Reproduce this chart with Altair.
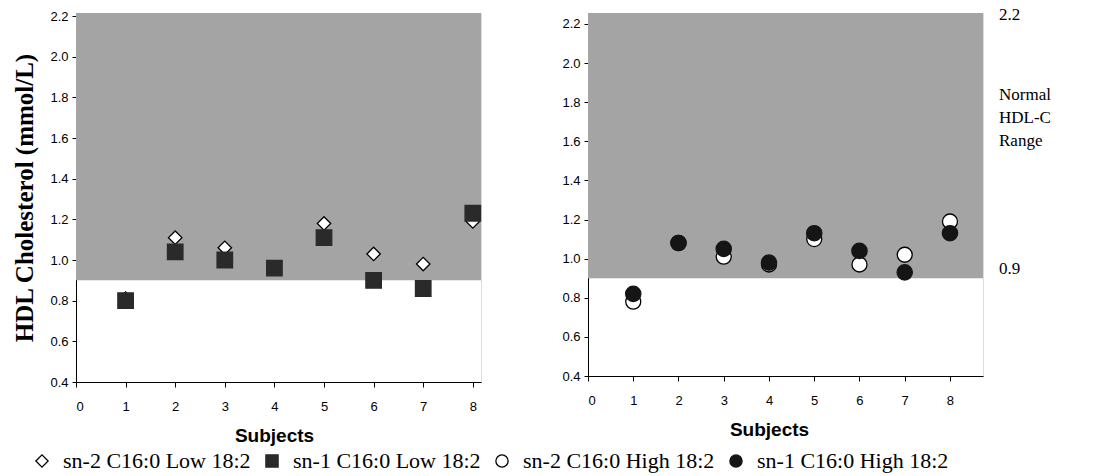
import altair as alt
import pandas as pd

subjects = [1, 2, 3, 4, 5, 6, 7, 8]
sn2_low = [0.81, 1.11, 1.06, 0.96, 1.18, 1.03, 0.98, 1.19]
sn1_low = [0.80, 1.04, 1.00, 0.96, 1.11, 0.90, 0.86, 1.23]
sn2_high = [0.78, 1.08, 1.01, 0.97, 1.10, 0.97, 1.02, 1.19]
sn1_high = [0.82, 1.08, 1.05, 0.98, 1.13, 1.04, 0.93, 1.13]

series_names = ["sn-2 C16:0 Low 18:2", "sn-1 C16:0 Low 18:2",
                "sn-2 C16:0 High 18:2", "sn-1 C16:0 High 18:2"]
normal_low = [0.9]
normal_high = [2.2]
x_ticks = [0, 1, 2, 3, 4, 5, 6, 7, 8]
y_ticks = [0.4, 0.6, 0.8, 1.0, 1.2, 1.4, 1.6, 1.8, 2.0, 2.2]
range_labels = ["2.2", "0.9"]

rows = []
for name, vals in zip(series_names, [sn2_low, sn1_low, sn2_high, sn1_high]):
    for s, v in zip(subjects, vals):
        rows.append({"subject": s, "hdl": v, "series": name})
df = pd.DataFrame(rows)
band = pd.DataFrame({"lo": normal_low, "hi": normal_high})
ann = pd.DataFrame({"label": range_labels, "pos": [normal_high[0] + 0.045, normal_low[0] + 0.045]})

SANS = "Liberation Sans"
SERIF = "Liberation Serif"
BAND = "#a4a4a4"

legend = alt.Legend(
    title=None, orient="none", legendX=-45, legendY=437, direction="horizontal",
    columns=4, labelFont=SERIF, labelFontSize=22, labelColor="black", labelLimit=0,
    symbolSize=150, symbolStrokeWidth=1.3, columnPadding=10, labelOffset=10,
)
shape_enc = alt.Shape("series:N", scale=alt.Scale(domain=series_names,
                      range=["diamond", "square", "circle", "circle"]), legend=legend)
fill_enc = alt.Fill("series:N", scale=alt.Scale(domain=series_names,
                    range=["white", "#2a2a2a", "white", "#151515"]), legend=legend)
stroke_enc = alt.Stroke("series:N", scale=alt.Scale(domain=series_names,
                        range=["black", "#2a2a2a", "black", "#151515"]), legend=legend)


def panel(series_pair, w, h, xmax, ymax, sizes, show_ytitle, title_x, annotate):
    xs = alt.Scale(domain=[0, xmax], nice=False, zero=False)
    ys = alt.Scale(domain=[0.4, ymax], nice=False, zero=False)
    xaxis = alt.Axis(values=x_ticks, format="d", title="Subjects", grid=False,
                     labelFont=SANS, labelFontSize=13, labelColor="black",
                     titleFont=SANS, titleFontSize=19, titleFontWeight="bold",
                     titleColor="black", titleX=title_x, titleY=53,
                     titleBaseline="middle", domainColor="black", tickColor="black",
                     tickSize=5, labelPadding=13)
    yaxis = alt.Axis(values=y_ticks, format=".1f", grid=False,
                     title="HDL Cholesterol (mmol/L)" if show_ytitle else None,
                     labelFont=SANS, labelFontSize=13, labelColor="black",
                     titleFont=SERIF, titleFontSize=25, titleFontWeight="bold",
                     titleColor="black", titlePadding=12,
                     domainColor="black", tickColor="black", tickSize=4, labelPadding=4)
    rect = alt.Chart(band).mark_rect(color=BAND).encode(
        x=alt.value(0), x2=alt.value(w),
        y=alt.Y("lo:Q", scale=ys, axis=yaxis), y2=alt.value(0),
    )
    layers = [rect]
    for name, size in zip(series_pair, sizes):
        pts = alt.Chart(df[df.series == name]).mark_point(
            filled=False, strokeWidth=1.3, opacity=1
        ).encode(
            x=alt.X("subject:Q", scale=xs, axis=xaxis),
            y=alt.Y("hdl:Q", scale=ys, axis=yaxis),
            shape=shape_enc, fill=fill_enc, stroke=stroke_enc,
            size=alt.value(size),
        )
        layers.append(pts)
    if annotate:
        ann_txt = alt.Chart(ann).mark_text(
            align="left", baseline="middle", font=SERIF, fontSize=17, color="black"
        ).encode(x=alt.value(w + 16), y=alt.Y("pos:Q", scale=ys, axis=yaxis),
                 text="label:N")
        range_txt = alt.Chart(band).mark_text(
            align="left", baseline="middle", font=SERIF, fontSize=17, color="black",
            lineBreak="\n", lineHeight=23
        ).encode(x=alt.value(w + 16), y=alt.value(82),
                 text=alt.value("Normal\nHDL-C\nRange"))
        layers += [ann_txt, range_txt]
    return alt.layer(*layers).properties(width=w, height=h)


left = panel(series_names[:2], 405, 369, 8.165, 2.215, [180, 240], True, 198, False)
right = panel(series_names[2:], 395, 363, 8.73, 2.256, [225, 235], False, 181, True)

chart = alt.hconcat(left, right, spacing=107, bounds="flush").resolve_scale(
    x="independent", y="independent", shape="shared", fill="shared", stroke="shared"
).configure_view(stroke=None).configure(background="white").properties(
    padding={"left": 12, "top": 5, "right": 5, "bottom": 5}
)

chart.save("out.html", embed_options={"renderer": "svg", "actions": False})
